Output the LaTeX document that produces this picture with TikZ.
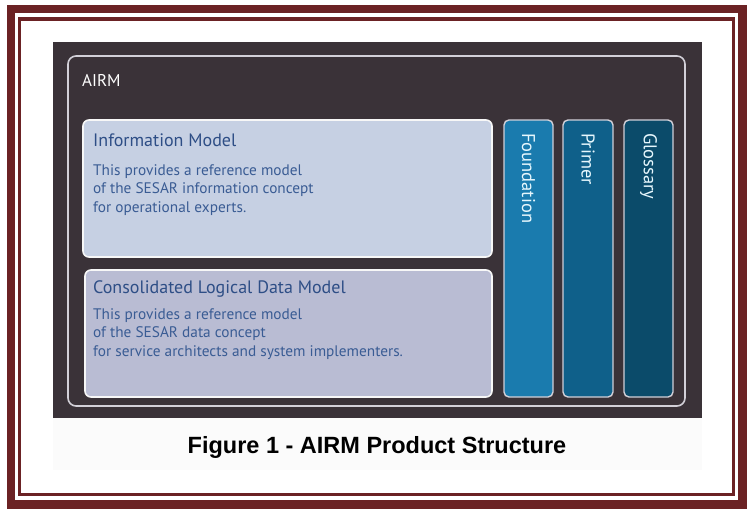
\documentclass[tikz,border=0pt]{standalone}
\usepackage{fontspec}
\setmainfont{PT Sans}
\newfontfamily\figcapfont{Liberation Sans}
\usepackage{xcolor}
\usepackage{tikz}

\definecolor{framered}{HTML}{6B2224}
\definecolor{paneldark}{HTML}{3A3238}
\definecolor{airmline}{HTML}{D2D0D8}
\definecolor{infofill}{HTML}{C6D0E3}
\definecolor{datafill}{HTML}{B9BCD3}
\definecolor{titleblue}{HTML}{2E4E86}
\definecolor{bodyblue}{HTML}{3A5C94}
\definecolor{foundfill}{HTML}{1A7BAE}
\definecolor{primerfill}{HTML}{0F608A}
\definecolor{glossfill}{HTML}{0B4B6A}

\tikzset{
  modelbox/.style={draw=white!94!gray, line width=1.6pt, rounded corners=6pt},
  pillar/.style={draw=airmline, line width=1.4pt, rounded corners=5pt},
  boxtitle/.style={anchor=base west, inner sep=0pt, text=titleblue, font=\fontsize{18}{21}\selectfont},
  boxbody/.style={anchor=base west, inner sep=0pt, align=left, text=bodyblue, font=\fontsize{15.3}{18.5}\selectfont},
  pillartext/.style={anchor=west, inner sep=0pt, rotate=-90, text=white!90!cyan, font=\fontsize{18.5}{20}\selectfont}
}

\begin{document}
\begin{tikzpicture}[x=1pt, y=-1pt]
    \useasboundingbox (0,0) rectangle (750,512);
    \fill[white] (0,0) rectangle (750,512);

    % Double frame
    \draw[framered, line width=8.5pt] (11,9) rectangle (742.5,504.5);
    \draw[framered, line width=3.5pt] (19.5,19) rectangle (733.5,494.5);

    % Dark panel and caption strip
    \fill[gray!3] (53,418) rectangle (702,470);
    \fill[paneldark] (53,42) rectangle (702,418);

    % AIRM outline
    \draw[airmline, line width=1.6pt, rounded corners=8pt] (68,56) rectangle (685,406);
    \node[anchor=base west, inner sep=0pt, text=white, font=\fontsize{17}{20}\selectfont] (airm) at (82,86) {AIRM};

    % Information Model
    \draw[modelbox, fill=infofill] (83,120) rectangle (492,257);
    \node[boxtitle] (infotitle) at (93,146.5) {Information Model};
    % (base of a multi-line node = last line)
    \node[boxbody] (infobody) at (93,212) {This provides a reference model\\of the SESAR information concept\\for operational experts.};

    % Consolidated Logical Data Model
    \draw[modelbox, fill=datafill] (85,270) rectangle (492,397);
    \node[boxtitle] (datatitle) at (93,293) {Consolidated Logical Data Model};
    \node[boxbody] (databody) at (93,356) {This provides a reference model\\of the SESAR data concept\\for service architects and system implementers.};

    % Vertical pillars
    \draw[pillar, fill=foundfill] (504,120) rectangle (553,397);
    \node[pillartext] (found) at (528.5,133) {Foundation};
    \draw[pillar, fill=primerfill] (563,120) rectangle (613,397);
    \node[pillartext] (primer) at (588,133) {Primer};
    \draw[pillar, fill=glossfill] (624,120) rectangle (673,397);
    \node[pillartext] (gloss) at (648.5,133) {Glossary};

    % Caption
    \node[inner sep=0pt, font=\figcapfont\bfseries\fontsize{23.5}{26}\selectfont] (figcap) at (377,447) {Figure 1 - AIRM Product Structure};
\end{tikzpicture}
\end{document}
